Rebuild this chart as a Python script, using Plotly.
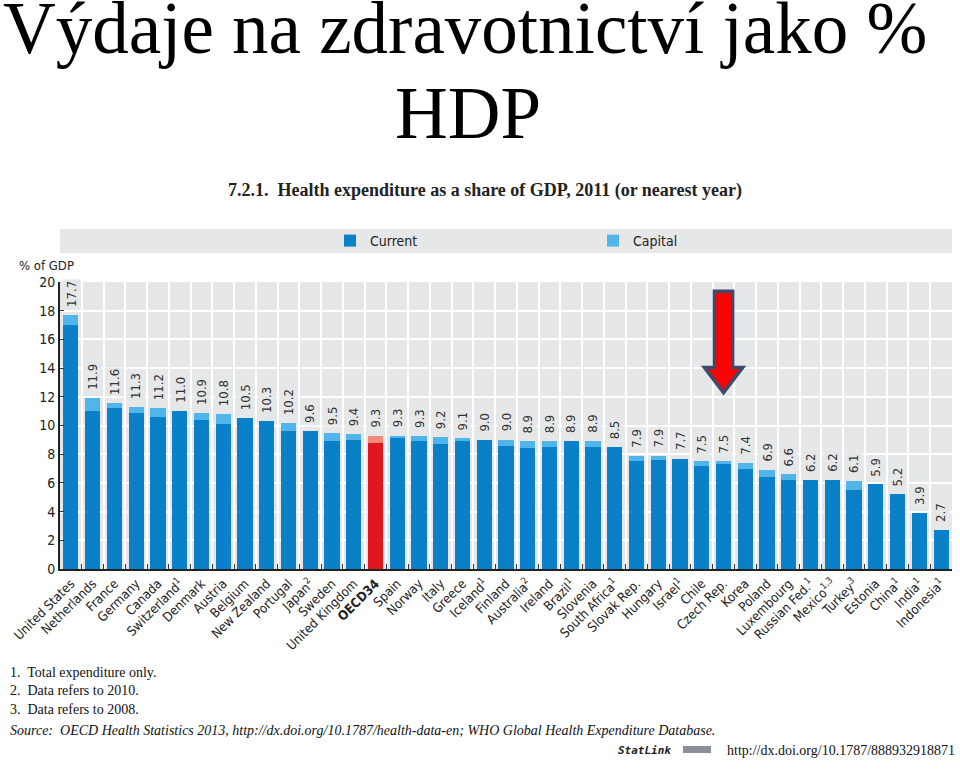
import plotly.graph_objects as go

# ---------------- data ----------------
countries = [
    "United States", "Netherlands", "France", "Germany", "Canada", "Switzerland<sup>1</sup>",
    "Denmark", "Austria", "Belgium", "New Zealand", "Portugal", "Japan<sup>2</sup>", "Sweden",
    "United Kingdom", "<b>OECD34</b>", "Spain", "Norway", "Italy", "Greece", "Iceland<sup>1</sup>",
    "Finland", "Australia<sup>2</sup>", "Ireland", "Brazil<sup>1</sup>", "Slovenia",
    "South Africa<sup>1</sup>", "Slovak Rep.", "Hungary", "Israel<sup>1</sup>", "Chile",
    "Czech Rep.", "Korea", "Poland", "Luxembourg", "Russian Fed.<sup>1</sup>",
    "Mexico<sup>1,3</sup>", "Turkey<sup>3</sup>", "Estonia", "China<sup>1</sup>",
    "India<sup>1</sup>", "Indonesia<sup>1</sup>",
]
total = [17.7, 11.9, 11.6, 11.3, 11.2, 11.0, 10.9, 10.8, 10.5, 10.3, 10.2, 9.6, 9.5, 9.4,
         9.3, 9.3, 9.3, 9.2, 9.1, 9.0, 9.0, 8.9, 8.9, 8.9, 8.9, 8.5, 7.9, 7.9, 7.7, 7.5,
         7.5, 7.4, 6.9, 6.6, 6.2, 6.2, 6.1, 5.9, 5.2, 3.9, 2.7]
capital = [0.7, 0.9, 0.4, 0.4, 0.6, 0.0, 0.5, 0.7, 0.0, 0.0, 0.6, 0.0, 0.6, 0.4,
           0.5, 0.2, 0.4, 0.5, 0.2, 0.0, 0.4, 0.5, 0.4, 0.0, 0.4, 0.0, 0.4, 0.3, 0.0, 0.3,
           0.2, 0.4, 0.5, 0.4, 0.0, 0.0, 0.6, 0.0, 0.0, 0.0, 0.0]
current = [round(t - c, 1) for t, c in zip(total, capital)]
highlight = "<b>OECD34</b>"
arrow_target = "Czech Rep."
y_ticks = list(range(0, 21, 2))

# ---------------- style ----------------
BLUE, LIGHT_BLUE = "#0a80c9", "#52b5e9"
RED, LIGHT_RED = "#e3151d", "#f3897c"
PLOT_BG = "#e6e7e9"
NARROW = "Liberation Sans Narrow, DejaVu Sans Condensed, Arial Narrow, sans-serif"
SERIF = "Liberation Serif, Times New Roman, serif"

W, H = 960, 772
L, R, T, B = 60, 8, 282, 203
PW, PH = W - L - R, H - T - B


def px(x):
    return (x - L) / PW


def py(y):
    return (H - B - y) / PH


cur_colors = [RED if c == highlight else BLUE for c in countries]
cap_colors = [LIGHT_RED if c == highlight else LIGHT_BLUE for c in countries]

fig = go.Figure()
fig.add_trace(go.Bar(x=countries, y=current, name="Current",
                     marker=dict(color=cur_colors, line=dict(width=0)),
                     hoverinfo="skip"))
fig.add_trace(go.Bar(x=countries, y=capital, name="Capital",
                     marker=dict(color=cap_colors, line=dict(width=0)),
                     hoverinfo="skip"))

annotations = []
# value labels
for c, t in zip(countries, total):
    annotations.append(dict(x=c, y=t, xref="x", yref="y", text=f"{t:.1f}",
                            textangle=-90, showarrow=False, yanchor="bottom",
                            yshift=6, bgcolor=PLOT_BG, borderpad=1,
                            font=dict(family=NARROW, size=13, color="#333333")))

# titles / text
annotations += [
    dict(x=px(465), y=py(29), xref="paper", yref="paper", showarrow=False,
         text="Výdaje na zdravotnictví jako %", font=dict(family=SERIF, size=73, color="black"),
         xanchor="center", yanchor="middle"),
    dict(x=px(468), y=py(114), xref="paper", yref="paper", showarrow=False,
         text="HDP", font=dict(family=SERIF, size=73, color="black"),
         xanchor="center", yanchor="middle"),
    dict(x=px(485), y=py(190), xref="paper", yref="paper", showarrow=False,
         text="<b>7.2.1.  Health expenditure as a share of GDP, 2011 (or nearest year)</b>",
         font=dict(family=SERIF, size=18, color="#222222"), xanchor="center", yanchor="middle"),
    dict(x=px(17), y=py(265), xref="paper", yref="paper", showarrow=False,
         text="% of GDP", font=dict(family=NARROW, size=13, color="#222222"),
         xanchor="left", yanchor="middle"),
]
notes = ["1.  Total expenditure only.", "2.  Data refers to 2010.", "3.  Data refers to 2008."]
for i, n in enumerate(notes):
    annotations.append(dict(x=px(8), y=py(672 + i * 18.5), xref="paper", yref="paper",
                            showarrow=False, text=n, xanchor="left", yanchor="middle",
                            font=dict(family=SERIF, size=14, color="#111111")))
annotations += [
    dict(x=px(8), y=py(730), xref="paper", yref="paper", showarrow=False,
         text="<i>Source:  OECD Health Statistics 2013, http://dx.doi.org/10.1787/health-data-en; "
              "WHO Global Health Expenditure Database.</i>",
         xanchor="left", yanchor="middle", font=dict(family=SERIF, size=14, color="#111111")),
    dict(x=px(957), y=py(750), xref="paper", yref="paper", showarrow=False,
         text="http://dx.doi.org/10.1787/888932918871",
         xanchor="right", yanchor="middle", font=dict(family=SERIF, size=14, color="#111111")),
    dict(x=px(673), y=py(750), xref="paper", yref="paper", showarrow=False,
         text="<b><i>StatLink</i></b>",
         xanchor="right", yanchor="middle", font=dict(family="DejaVu Sans Mono", size=11, color="#222222")),
]

# arrow pointing at the target bar (category index for category axis)
ai = countries.index(arrow_target)
shaft_hw, head_hw = 0.42, 0.88
top_y, head_y, tip_y = 19.35, 14.05, 12.3
arrow_path = (f"M {ai - shaft_hw},{top_y} L {ai + shaft_hw},{top_y} L {ai + shaft_hw},{head_y} "
              f"L {ai + head_hw},{head_y} L {ai},{tip_y} L {ai - head_hw},{head_y} "
              f"L {ai - shaft_hw},{head_y} Z")

shapes = [
    dict(type="rect", xref="paper", yref="paper", x0=px(60), x1=px(952), y0=py(253), y1=py(229),
         fillcolor=PLOT_BG, line=dict(width=0), layer="below"),
    dict(type="path", xref="x", yref="y", path=arrow_path, fillcolor="#ff0000",
         line=dict(color="#3d4a69", width=3.5), layer="above"),
    dict(type="rect", xref="paper", yref="paper", x0=px(683), x1=px(711), y0=py(753), y1=py(746),
         fillcolor="#8a8f99", line=dict(width=0)),
]

fig.update_layout(
    width=W, height=H,
    margin=dict(l=L, r=R, t=T, b=B, autoexpand=False),
    paper_bgcolor="white", plot_bgcolor=PLOT_BG,
    barmode="stack", bargap=0.3,
    showlegend=True,
    legend=dict(orientation="h", x=px(330), y=py(241), xanchor="left", yanchor="middle",
                bgcolor="rgba(0,0,0,0)", entrywidth=218, entrywidthmode="pixels",
                font=dict(family=NARROW, size=14, color="#222222"), traceorder="normal",
                itemsizing="constant"),
    annotations=annotations, shapes=shapes,
    xaxis=dict(type="category", tickangle=-45, tickson="boundaries", ticks="inside",
               ticklen=5, tickcolor="#333333", showgrid=True, gridcolor="white", gridwidth=2,
               showline=True, linecolor="#222222", linewidth=2,
               tickfont=dict(family=NARROW, size=13, color="#222222"), automargin=False),
    yaxis=dict(range=[0, 20], tickvals=y_ticks, ticks="inside", ticklen=4,
               tickcolor="#333333", showgrid=True, gridcolor="white", gridwidth=2,
               showline=True, linecolor="#222222", linewidth=2, zeroline=False,
               tickfont=dict(family=NARROW, size=14, color="#222222"), automargin=False),
)

# remove the default 8px page margin so the figure fills the 960x772 window exactly
fig.write_html("out.html", config={"displayModeBar": False},
               post_script="document.body.style.margin='0';")
